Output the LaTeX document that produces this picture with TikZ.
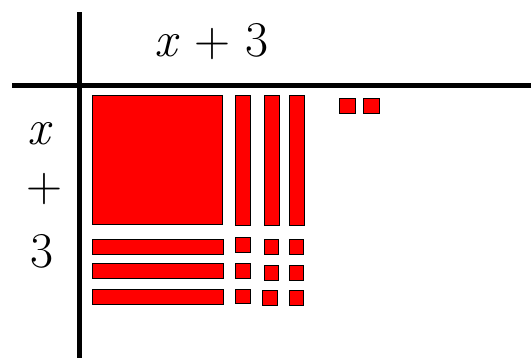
\documentclass[tikz,border=0pt]{standalone}
\begin{document}
\begin{tikzpicture}[x=1pt,y=-1pt,
  tile/.style={fill=red,draw=black,line width=1pt},
  axis/.style={line width=5pt,draw=black},
  lbl/.style={inner sep=0pt,anchor=base,font=\fontsize{50}{56}\selectfont}]
\useasboundingbox (0,0) rectangle (531,358);
% axes
\coordinate (hl) at (12,85.5);
\coordinate (hr) at (531,85.5);
\coordinate (vt) at (79.5,12.5);
\coordinate (vb) at (79.5,358);
\draw[axis] (hl) -- (hr);
\draw[axis] (vt) -- (vb);
% labels
\node[lbl] (top) at (211.5,57) {\textit{x} + 3};
\node[lbl] (lx) at (40,145) {\textit{x}};
\node[lbl] (lp) at (45,202) {+};
\node[lbl] (l3) at (42,268) {3};
% x^2 tile
\path[tile] (92.5,95.5) rectangle (222.5,225);
% x tiles vertical
\path[tile] (235.5,95.5) rectangle (250.5,226);
\path[tile] (264,95.5) rectangle (279,226);
\path[tile] (289,95.5) rectangle (304,226);
% x tiles horizontal
\path[tile] (92.5,240) rectangle (223,255);
\path[tile] (92.5,264) rectangle (223,279);
\path[tile] (92.5,289.5) rectangle (223,304.5);
% unit tiles
\path[tile] (235.5,238) rectangle (250.5,252.5);
\path[tile] (235.5,263.5) rectangle (250.5,278.5);
\path[tile] (235.5,289.5) rectangle (250.5,304);
\path[tile] (264,240) rectangle (278.5,254.5);
\path[tile] (264,265.5) rectangle (278.5,280.5);
\path[tile] (262,291) rectangle (277,306);
\path[tile] (289,240) rectangle (303.5,254.5);
\path[tile] (289,265.5) rectangle (303.5,280.5);
\path[tile] (289,291) rectangle (303.5,306);
% extra unit tiles
\path[tile] (339.5,98.5) rectangle (355,114);
\path[tile] (363.5,98.5) rectangle (379,114);
\end{tikzpicture}
\end{document}
